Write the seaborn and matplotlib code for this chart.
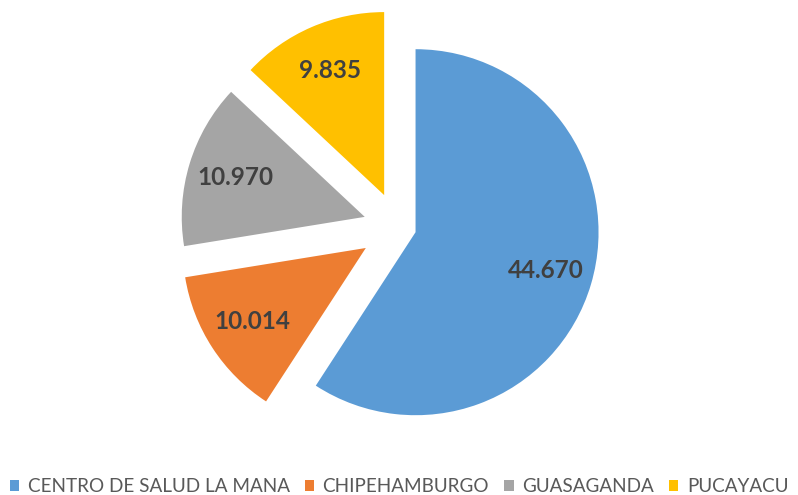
import matplotlib
matplotlib.use("Agg")
import matplotlib.pyplot as plt
import seaborn as sns

# data
centros = ["CENTRO DE SALUD LA MANA", "CHIPEHAMBURGO", "GUASAGANDA", "PUCAYACU"]
atenciones = [44670, 10014, 10970, 9835]
colores = ["#5B9BD5", "#ED7D31", "#A5A5A5", "#FFC000"]

sns.set_theme(style="white")
plt.rcParams["font.family"] = ["Lato", "DejaVu Sans"]


def fmt_miles(v):
    # thousands with a dot, like the original
    return f"{v:,.0f}".replace(",", ".")


total = sum(atenciones)

fig = plt.figure(figsize=(7.98, 4.95), dpi=100)
ax = fig.add_axes([0, 0, 1, 1])

wedges, texts, autotexts = ax.pie(
    atenciones,
    colors=colores,
    startangle=90,
    counterclock=False,
    explode=[0.10, 0.21, 0.19, 0.19],
    radius=1,
    autopct=lambda p: fmt_miles(round(p * total / 100)),
    pctdistance=0.74,
    wedgeprops={"linewidth": 0},
    textprops={"fontsize": 17.5, "fontweight": "bold", "color": "#404040"},
)

# 1 unit = 183 px, pie centre at (398, 227) px
s = 183.0
ax.set_xlim(-398 / s, (798 - 398) / s)
ax.set_ylim(-(495 - 227) / s, 227 / s)
ax.set_aspect("auto")
ax.axis("off")

leg = fig.legend(
    wedges, centros,
    loc="center", bbox_to_anchor=(0.5, 1 - 487 / 495),
    ncol=4, frameon=False,
    fontsize=13.6, labelcolor="#595959",
    handlelength=0.5, handleheight=0.5, handletextpad=0.45,
    columnspacing=0.8, borderpad=0, borderaxespad=0,
)

fig.savefig("out.png", dpi=100)
